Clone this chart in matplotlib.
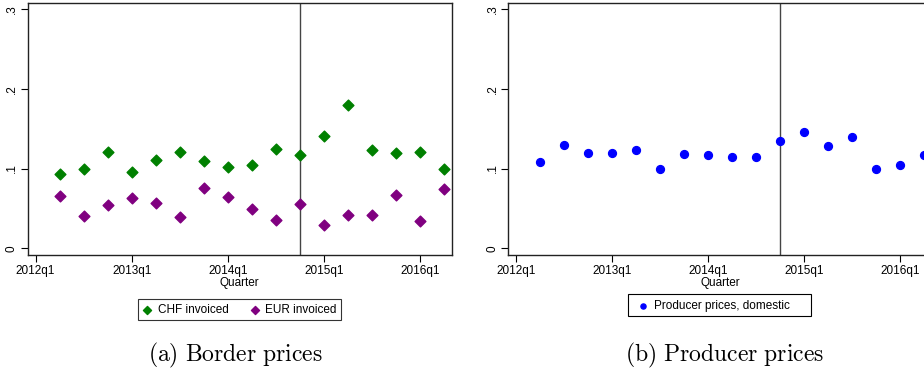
import numpy as np
import matplotlib.pyplot as plt
from matplotlib.patches import Rectangle

plt.rcParams['font.family'] = ['Liberation Sans', 'DejaVu Sans']
plt.rcParams['mathtext.fontset'] = 'cm'

# quarters since 2012q1 (1 = 2012q2 ... 17 = 2016q2)
quarters = np.arange(1, 18)
tick_pos = [0, 4, 8, 12, 16]
tick_labels = ['2012q1', '2013q1', '2014q1', '2015q1', '2016q1']
break_q = 11  # 2014q4

chf = [0.093, 0.100, 0.121, 0.096, 0.111, 0.121, 0.110, 0.102, 0.104, 0.124,
       0.117, 0.141, 0.180, 0.123, 0.119, 0.121, 0.099]
eur = [0.066, 0.040, 0.054, 0.063, 0.057, 0.039, 0.076, 0.064, 0.049, 0.036,
       0.056, 0.029, 0.042, 0.042, 0.067, 0.034, 0.074]
ppi = [0.108, 0.129, 0.120, 0.120, 0.123, 0.100, 0.118, 0.117, 0.115, 0.115,
       0.134, 0.146, 0.128, 0.139, 0.100, 0.105, 0.117]

W, H = 924, 381
fig = plt.figure(figsize=(W / 100, H / 100), dpi=100)


def make_ax(x0, x1, y0, y1):
    ax = fig.add_axes([x0 / W, 1 - y1 / H, (x1 - x0) / W, (y1 - y0) / H])
    ax.set_xlim(-0.33, 17.33)
    ax.set_ylim(-0.0084, 0.308)
    ax.set_xticks(tick_pos)
    ax.set_xticklabels(tick_labels, fontsize=8.5)
    ax.set_yticks([0, 0.1, 0.2, 0.3])
    ax.set_yticklabels(['0', '.1', '.2', '.3'], fontsize=8.5, rotation=90, va='center')
    ax.tick_params(direction='out', length=5, width=0.8, pad=2)
    for s in ax.spines.values():
        s.set_linewidth(1.0)
        s.set_color('#222222')
    ax.axvline(break_q, color='#444444', lw=1.0)
    ax.set_xlabel('Quarter', fontsize=8.5, labelpad=0)
    return ax


ax1 = make_ax(27.7, 451.7, 2.7, 255)
ax1.scatter(quarters, chf, marker='D', s=30, color='#008000', label='CHF invoiced', zorder=3)
ax1.scatter(quarters, eur, marker='D', s=30, color='#800080', label='EUR invoiced', zorder=3)
leg1 = ax1.legend(loc='upper center', bbox_to_anchor=(239.5 / W, 1 - 293 / H),
                  bbox_transform=fig.transFigure, ncol=2, fontsize=8.5, frameon=True,
                  fancybox=False, edgecolor='black', handlelength=0.8,
                  handletextpad=0.5, columnspacing=1.8, borderpad=0.4,
                  markerscale=0.75)
leg1.get_frame().set_linewidth(0.8)

ax2 = make_ax(508.3, 932.3, 2.7, 255)
ax2.scatter(quarters, ppi, marker='o', s=32, color='#0000ff',
            label='Producer prices, domestic', zorder=3, clip_on=False)
# right legend: box is wider than its content in the original, so draw it separately
ax2.legend(loc='upper left', bbox_to_anchor=(628 / W, 1 - 289 / H),
           bbox_transform=fig.transFigure, fontsize=8.5, frameon=False,
           handlelength=0.8, handletextpad=0.5, borderpad=0.4, markerscale=0.65)
fig.patches.append(Rectangle((628 / W, 1 - 316 / H), 183 / W, 22 / H,
                             transform=fig.transFigure, fill=False,
                             edgecolor='black', lw=0.8))

fig.text(235 / W, 1 - 355 / H, r'$\mathrm{(a)\ Border\ prices}$', fontsize=17,
         ha='center', va='center')
fig.text(725 / W, 1 - 355 / H, r'$\mathrm{(b)\ Producer\ prices}$', fontsize=17,
         ha='center', va='center')

fig.savefig('out.png', dpi=100)
